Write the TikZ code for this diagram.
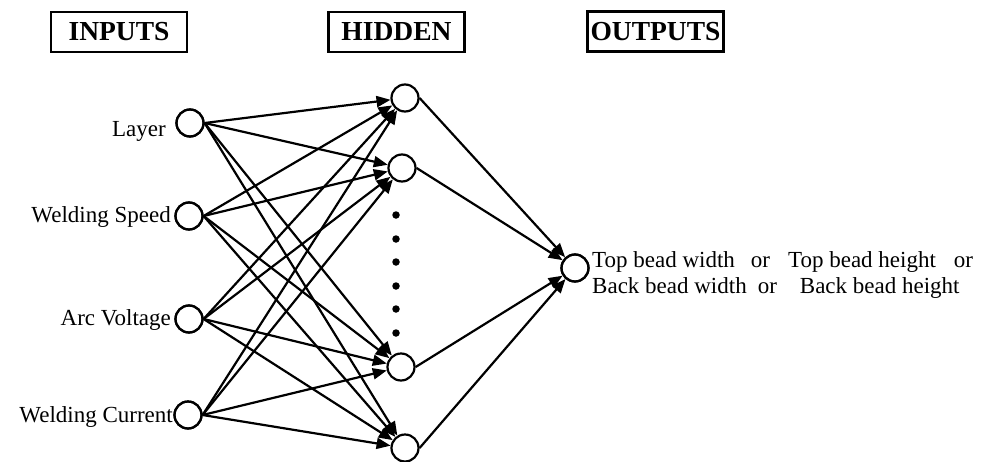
\documentclass[tikz,border=0pt]{standalone}
\usepackage{fontspec}
\setmainfont{Liberation Serif}
\usetikzlibrary{arrows.meta}
\begin{document}
\begin{tikzpicture}[x=1pt,y=-1pt,
  neuron/.style={circle,draw,line width=2.2pt,minimum size=27pt,inner sep=0pt,fill=white},
  title/.style={draw,line width=2.5pt,minimum width=136pt,minimum height=40pt,inner sep=0pt,
    font=\fontsize{27.5}{30}\selectfont\bfseries},
  lbl/.style={inner sep=0pt,font=\fontsize{23}{26}\selectfont},
  link/.style={line width=2.2pt,-{Triangle[length=14pt,width=11pt]}},
  dotmark/.style={circle,fill,inner sep=0pt,minimum size=7.5pt}]
\useasboundingbox (0,0) rectangle (989,461);

% layer titles
\node[title] (tin)  at (119,32)   {INPUTS};
\node[title] (thid) at (396.5,32) {HIDDEN};
\node[title] (tout) at (655.5,31.5) {OUTPUTS};

% input layer
\node[neuron] (i1) at (190,123) {};
\node[neuron] (i2) at (189,216) {};
\node[neuron] (i3) at (189,319) {};
\node[neuron] (i4) at (188,415) {};
\node[lbl,anchor=base east] (l1) at (166,136) {Layer};
\node[lbl,anchor=base east] (l2) at (171,222) {Welding Speed};
\node[lbl,anchor=base east] (l3) at (171,325) {Arc Voltage};
\node[lbl,anchor=base east] (l4) at (173,422) {Welding Current};

% hidden layer
\node[neuron] (h1) at (405,98) {};
\node[neuron] (h2) at (402,168) {};
\node[neuron] (h3) at (401,367) {};
\node[neuron] (h4) at (405,448) {};

% ellipsis between hidden neurons
\foreach \k/\yy in {1/215,2/239,3/262,4/286,5/309,6/333}
  \node[dotmark] (d\k) at (396,\yy) {};

% output neuron
\node[neuron] (o) at (575,268) {};
\node[lbl,anchor=base west,align=left] (ol) at (592,293)
  {Top bead width\hspace{16pt}or\hspace{18pt}Top bead height\hspace{18pt}or\\
   Back bead width\hspace{11pt}or\hspace{23pt}Back bead height};

% connections input -> hidden
\foreach \i in {1,...,4}
  \foreach \h in {1,...,4}
    \draw[link] (i\i.east) -- (h\h);

% connections hidden -> output
\foreach \h in {1,...,4}
  \draw[link] (h\h.east) -- (o);

% redraw input and output neurons above the lines
\foreach \n in {i1,i2,i3,i4,o}
  \draw[line width=2.2pt] (\n) circle (13.5pt);
\end{tikzpicture}
\end{document}
